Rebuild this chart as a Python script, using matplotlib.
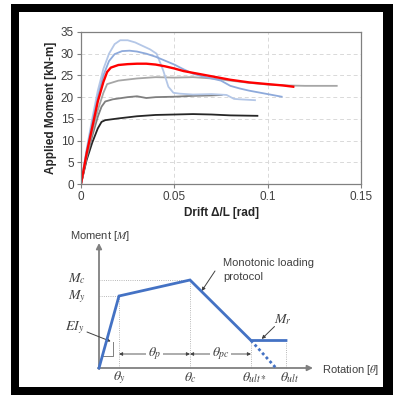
import matplotlib.pyplot as plt
from matplotlib.patches import Rectangle

plt.rcParams['font.family'] = ['Liberation Sans', 'DejaVu Sans']
plt.rcParams['mathtext.fontset'] = 'stix'

# Đường cong thí nghiệm (drift, moment)
drift_black = [0, 0.003, 0.006, 0.009, 0.011, 0.013, 0.02, 0.03, 0.04, 0.05, 0.06, 0.07, 0.08, 0.0945]
moment_black = [0, 5.5, 9.5, 12.8, 14.3, 14.7, 15.1, 15.6, 15.9, 16.0, 16.1, 16.0, 15.8, 15.7]

drift_dgray = [0, 0.003, 0.006, 0.009, 0.011, 0.013, 0.017, 0.025, 0.03, 0.035, 0.04, 0.05, 0.06, 0.07, 0.0754]
moment_dgray = [0, 6, 11, 15.5, 17.8, 19.0, 19.5, 20.0, 20.2, 19.8, 20.0, 20.1, 20.3, 20.4, 20.5]

drift_lgray = [0, 0.003, 0.006, 0.009, 0.012, 0.014, 0.02, 0.03, 0.04, 0.05, 0.06, 0.07, 0.08, 0.09, 0.1, 0.11, 0.12, 0.137]
moment_lgray = [0, 6.5, 12, 17, 21, 23.0, 23.8, 24.3, 24.6, 24.5, 24.6, 24.3, 23.8, 23.3, 22.9, 22.7, 22.6, 22.6]

drift_red = [0, 0.003, 0.006, 0.009, 0.012, 0.014, 0.016, 0.02, 0.025, 0.03, 0.035, 0.04, 0.045, 0.05,
             0.055, 0.06, 0.065, 0.07, 0.08, 0.09, 0.1, 0.108, 0.1137]
moment_red = [0, 7, 13, 19, 23.5, 25.8, 26.8, 27.4, 27.6, 27.7, 27.7, 27.5, 27.1, 26.6,
              26.0, 25.6, 25.2, 24.8, 24.0, 23.4, 23.0, 22.7, 22.4]

drift_blue = [0, 0.003, 0.006, 0.009, 0.012, 0.015, 0.018, 0.022, 0.026, 0.03, 0.035, 0.04, 0.045, 0.05,
              0.055, 0.06, 0.065, 0.07, 0.075, 0.08, 0.085, 0.09, 0.1, 0.1075]
moment_blue = [0, 7.5, 14, 20, 25, 28.3, 29.9, 30.6, 30.7, 30.5, 30.0, 29.3, 28.4, 27.5,
               26.4, 25.4, 24.8, 24.3, 23.8, 22.6, 22.0, 21.5, 20.7, 20.1]

drift_lblue = [0, 0.003, 0.006, 0.009, 0.012, 0.015, 0.018, 0.021, 0.025, 0.029, 0.033, 0.037, 0.0405,
               0.044, 0.0468, 0.0495, 0.053, 0.06, 0.07, 0.078, 0.082, 0.085, 0.0932]
moment_lblue = [0, 8, 15, 21.5, 26.5, 30, 32.2, 33.1, 33.1, 32.6, 31.8, 31.0, 30.0,
                26.2, 22.4, 21.0, 20.8, 20.6, 20.7, 20.5, 19.6, 19.5, 19.3]

x_ticks = [0, 0.05, 0.1, 0.15]
x_tick_labels = ['0', '0.05', '0.1', '0.15']
y_ticks = [0, 5, 10, 15, 20, 25, 30, 35]

# Sơ đồ mô hình (đơn vị tùy ý)
theta_pts = [0, 20, 91, 152, 187]     # 0, θy, θc, θult*, θult
moment_pts = [0, 72, 88, 27.5, 27.5]  # 0, My, Mc, Mr, Mr
theta_ult_dot = 177

W, H = 393, 395
fig = plt.figure(figsize=(W / 100, H / 100), dpi=100)


def px_rect(x0, y0, x1, y1, color):
    fig.patches.append(Rectangle((x0 / W, 1 - y1 / H), (x1 - x0) / W, (y1 - y0) / H,
                                 transform=fig.transFigure, facecolor=color,
                                 edgecolor='none', zorder=-10))


# Khung đen
px_rect(11, 4, 393, 395, 'black')
px_rect(19, 12, 383, 387, 'white')

# Biểu đồ trên
ax = fig.add_axes([81 / W, 1 - 184 / H, 280 / W, 152 / H])
ax.plot(drift_black, moment_black, color='#262626', lw=1.3)
ax.plot(drift_dgray, moment_dgray, color='#7f7f7f', lw=1.3)
ax.plot(drift_lgray, moment_lgray, color='#a6a6a6', lw=1.3)
ax.plot(drift_lblue, moment_lblue, color='#b4c7e7', lw=1.3)
ax.plot(drift_blue, moment_blue, color='#8eaadb', lw=1.3)
ax.plot(drift_red, moment_red, color='#ff0000', lw=1.7)
ax.set_xlim(0, 0.15)
ax.set_ylim(0, 35)
ax.set_xticks(x_ticks)
ax.set_xticklabels(x_tick_labels)
ax.set_yticks(y_ticks)
ax.grid(True, ls=(0, (4, 3)), color='#d9d9d9', lw=0.7)
for s in ax.spines.values():
    s.set_color('#808080')
    s.set_linewidth(0.9)
ax.tick_params(length=3, width=0.8, color='#808080', labelsize=8.5, labelcolor='#404040', pad=2)
ax.set_xlabel('Drift Δ/L [rad]', fontsize=8.5, fontweight='bold', color='#262626', labelpad=3)
ax.set_ylabel('Applied Moment [kN-m]', fontsize=8.5, fontweight='bold', color='#262626', labelpad=3)

# Sơ đồ dưới
ax2 = fig.add_axes([0, 0, 1, 175 / H])
ax2.set_xlim(-99, 294)
ax2.set_ylim(-27, 148)
ax2.axis('off')
ax2.patch.set_alpha(0)

gray = '#808080'
txt = '#404040'
ax2.annotate('', xy=(214, 0), xytext=(-1, 0),
             arrowprops=dict(arrowstyle='-|>', color=gray, lw=1.3, mutation_scale=8, shrinkA=0, shrinkB=0))
ax2.annotate('', xy=(0, 125), xytext=(0, -1),
             arrowprops=dict(arrowstyle='-|>', color=gray, lw=1.3, mutation_scale=8, shrinkA=0, shrinkB=0))

# Đường gióng
guide = dict(color='#a0a0a0', lw=0.6, ls=':')
ax2.plot([0, theta_pts[2]], [moment_pts[2], moment_pts[2]], **guide)
ax2.plot([0, theta_pts[1]], [moment_pts[1], moment_pts[1]], **guide)
for i in range(1, 5):
    ax2.plot([theta_pts[i], theta_pts[i]], [0, moment_pts[i]], **guide)

ax2.plot(theta_pts, moment_pts, color='#4472c4', lw=2, solid_joinstyle='miter', zorder=5)
ax2.plot([theta_pts[3], theta_ult_dot], [moment_pts[3], 0], color='#4472c4', lw=2,
         ls=(0, (1, 1)), zorder=5)

# Tam giác độ cứng EIy
slope = moment_pts[1] / theta_pts[1]
ax2.plot([12 / slope, 14.3, 14.3], [12, 12, 26.5], color=gray, lw=0.7)

# Mũi tên kích thước
dim = dict(arrowstyle='<|-|>', color='#404040', lw=0.6, mutation_scale=5, shrinkA=0, shrinkB=0)
ax2.annotate('', xy=(theta_pts[1], 14), xytext=(theta_pts[2], 14), arrowprops=dim)
ax2.annotate('', xy=(theta_pts[2], 14), xytext=(theta_pts[3], 14), arrowprops=dim)
box = dict(facecolor='white', edgecolor='none', pad=1.5)
ax2.text((theta_pts[1] + theta_pts[2]) / 2, 14, r'$\theta_p$', fontsize=10, ha='center', va='center',
         color=txt, bbox=box, zorder=6)
ax2.text((theta_pts[2] + theta_pts[3]) / 2, 14, r'$\theta_{pc}$', fontsize=10, ha='center', va='center',
         color=txt, bbox=box, zorder=6)

# Nhãn
ax2.text(1, 132, r'Moment [$M$]', fontsize=8, ha='center', va='center', color=txt)
ax2.text(223, -2, r'Rotation [$\theta$]', fontsize=8, ha='left', va='center', color=txt)
ax2.text(-13, moment_pts[2] + 1, r'$M_c$', fontsize=10, ha='right', va='center', color=txt)
ax2.text(-13, moment_pts[1] - 1, r'$M_y$', fontsize=10, ha='right', va='center', color=txt)
ax2.text(theta_pts[1], -10, r'$\theta_y$', fontsize=10, ha='center', va='center', color=txt)
ax2.text(theta_pts[2], -10, r'$\theta_c$', fontsize=10, ha='center', va='center', color=txt)
ax2.text(theta_pts[3] + 3, -10, r'$\theta_{ult*}$', fontsize=10, ha='center', va='center', color=txt)
ax2.text(theta_pts[4] + 4, -10, r'$\theta_{ult}$', fontsize=10, ha='center', va='center', color=txt)

ax2.text(124, 105, 'Monotonic loading', fontsize=8, ha='left', va='center', color=txt)
ax2.text(124, 91, 'protocol', fontsize=8, ha='left', va='center', color=txt)
ax2.annotate('', xy=(102.7, 77), xytext=(116, 97),
             arrowprops=dict(arrowstyle='-|>', color='#404040', lw=0.7, mutation_scale=5, shrinkA=0, shrinkB=0))

ax2.text(-24, 40, r'$EI_y$', fontsize=10, ha='center', va='center', color=txt)
ax2.annotate('', xy=(11.7, 26.6), xytext=(-12, 36),
             arrowprops=dict(arrowstyle='-|>', color='#404040', lw=0.7, mutation_scale=5, shrinkA=0, shrinkB=0))

ax2.text(184, 48, r'$M_r$', fontsize=10, ha='center', va='center', color=txt)
ax2.annotate('', xy=(162.7, 29), xytext=(175.5, 41.5),
             arrowprops=dict(arrowstyle='-|>', color='#404040', lw=0.7, mutation_scale=5, shrinkA=0, shrinkB=0))

fig.savefig('out.png', dpi=100)
